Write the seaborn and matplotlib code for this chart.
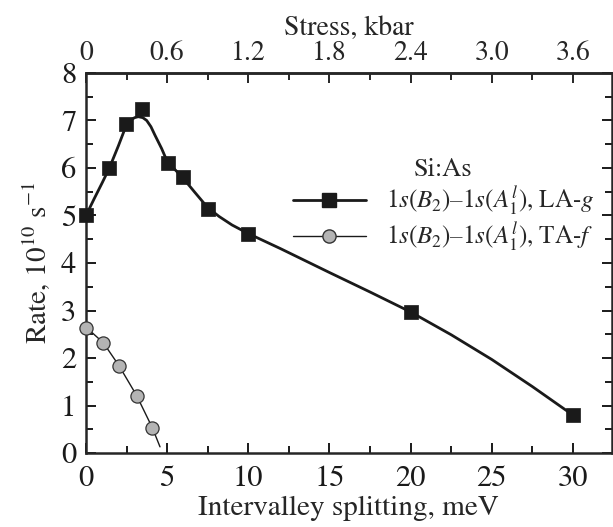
import pandas as pd
import seaborn as sns
import matplotlib.pyplot as plt
from matplotlib.lines import Line2D
from matplotlib.ticker import MultipleLocator

# LA-g measured points
la_x = [0.0, 1.44, 2.44, 3.43, 5.03, 6.0, 7.5, 10.0, 20.0, 30.0]
la_y = [5.0, 6.01, 6.92, 7.25, 6.1, 5.8, 5.14, 4.61, 2.97, 0.8]
# LA-g fitted curve
la_fit_x = [0, 0.5, 1.0, 1.44, 2.0, 2.46, 2.8, 3.0, 3.22, 3.5, 3.74, 4.0, 4.25, 4.66,
            5.0, 5.5, 5.95, 6.7, 7.49, 8.2, 9.0, 10, 11, 12, 15, 17.5, 20, 22.5, 25, 27.5, 30]
la_fit_y = [5.0, 5.35, 5.69, 6.0, 6.47, 6.88, 7.02, 7.06, 7.08, 7.06, 7.0, 6.87, 6.69, 6.41,
            6.14, 5.96, 5.8, 5.49, 5.17, 4.98, 4.8, 4.62, 4.46, 4.3, 3.8, 3.39, 2.97,
            2.49, 1.97, 1.40, 0.8]

# TA-f measured points
ta_x = [0.0, 1.07, 2.03, 3.12, 4.09]
ta_y = [2.64, 2.31, 1.83, 1.2, 0.53]
ta_fit_x = [0.0, 1.07, 2.03, 3.12, 4.09, 4.56]
ta_fit_y = [2.65, 2.32, 1.84, 1.21, 0.53, 0.13]

stress_pos = [0, 5, 10, 15, 20, 25, 30]
stress_labels = ['0', '0.6', '1.2', '1.8', '2.4', '3.0', '3.6']

la_label = r'1$s$($B_2$)–1$s$($A_1^l$), LA-$g$'
ta_label = r'1$s$($B_2$)–1$s$($A_1^l$), TA-$f$'

sns.set_style('ticks')
plt.rcParams['font.family'] = ['STIXGeneral', 'DejaVu Serif']
plt.rcParams['mathtext.fontset'] = 'stix'
plt.rcParams['axes.linewidth'] = 1.8

fig = plt.figure(figsize=(6.13, 5.27), dpi=100)
ax = fig.add_axes([0.1403, 0.1404, 0.998 - 0.1403, 0.8615 - 0.1404])

la_fit = pd.DataFrame({'x': la_fit_x, 'y': la_fit_y})
ta_fit = pd.DataFrame({'x': ta_fit_x, 'y': ta_fit_y})
sns.lineplot(data=la_fit, x='x', y='y', ax=ax, color='#1a1a1a', lw=2.0,
             sort=False, legend=False)
sns.lineplot(data=ta_fit, x='x', y='y', ax=ax, color='#1a1a1a', lw=1.0,
             sort=False, legend=False)
sns.scatterplot(x=la_x, y=la_y, ax=ax, marker='s', s=100, color='#1a1a1a',
                edgecolor='#1a1a1a', linewidth=0.5, zorder=5, clip_on=False)
sns.scatterplot(x=ta_x, y=ta_y, ax=ax, marker='o', s=90, color='#b4b4b4',
                edgecolor='#333333', linewidth=0.9, zorder=5, clip_on=False)

ax.set_xlim(0, 32.4)
ax.set_ylim(0, 8)
ax.xaxis.set_major_locator(MultipleLocator(5))
ax.xaxis.set_minor_locator(MultipleLocator(2.5))
ax.yaxis.set_major_locator(MultipleLocator(1))
ax.yaxis.set_minor_locator(MultipleLocator(0.5))
ax.tick_params(which='both', direction='in', right=True, top=False,
               width=1.4, labelsize=22, colors='#1a1a1a')
ax.tick_params(which='major', length=7)
ax.tick_params(which='minor', length=5)
ax.tick_params(axis='x', pad=9)
ax.tick_params(axis='y', pad=7)
ax.set_xlabel('Intervalley splitting, meV', fontsize=21, labelpad=2)
ax.set_ylabel(r'Rate, 10$^{10}$ s$^{-1}$', fontsize=21, labelpad=6)

top = ax.secondary_xaxis('top')
top.set_xticks(stress_pos)
top.set_xticklabels(stress_labels)
top.xaxis.set_minor_locator(MultipleLocator(2.5))
top.tick_params(which='both', direction='in', width=1.4, labelsize=20, pad=5)
top.tick_params(which='major', length=7)
top.tick_params(which='minor', length=5)
top.set_xlabel('Stress, kbar', fontsize=20, labelpad=4)

handles = [
    Line2D([], [], color='#1a1a1a', lw=2.0, marker='s', markersize=10),
    Line2D([], [], color='#1a1a1a', lw=1.0, marker='o', markersize=9.5,
           markerfacecolor='#b4b4b4', markeredgecolor='#333333'),
]
leg = ax.legend(handles, [la_label, ta_label], title='Si:As', frameon=False,
                fontsize=18, title_fontsize=19, loc='upper left',
                bbox_to_anchor=(0.37, 0.81), handlelength=2.9,
                handletextpad=0.8, labelspacing=0.12, borderpad=0)

fig.savefig('out.png', dpi=100)
